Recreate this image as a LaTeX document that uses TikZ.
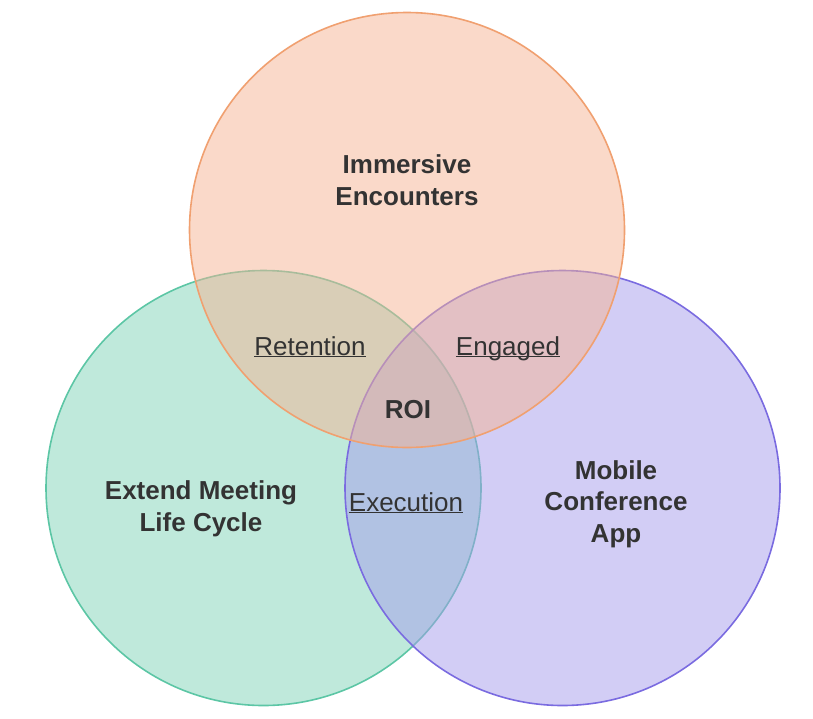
\documentclass[tikz,border=0pt]{standalone}
\usepackage{fontspec}
\setmainfont{Liberation Sans}
\definecolor{orangefill}{HTML}{F5B393}
\definecolor{orangeline}{HTML}{F0A070}
\definecolor{greenfill}{HTML}{7FD4B8}
\definecolor{greenline}{HTML}{5CC6A5}
\definecolor{purplefill}{HTML}{A59CEB}
\definecolor{purpleline}{HTML}{7A6BE0}
\definecolor{labelgray}{HTML}{333333}
\tikzset{
  venn/.style={circle, minimum size=435pt, inner sep=0pt, line width=1.6pt, fill opacity=0.5},
  setlabel/.style={text=labelgray, align=center, font=\fontsize{26}{31.5}\selectfont\bfseries},
  zonelabel/.style={text=labelgray, text height=19pt, text depth=7pt, font=\fontsize{26}{31.5}\selectfont}
}
\begin{document}
\begin{tikzpicture}[x=1pt, y=-1pt]
				\useasboundingbox (0,0) rectangle (813,718);

				\node[venn, draw=greenline, fill=greenfill] (lifecycle) at (263.5,488) {};
				\node[venn, draw=purpleline, fill=purplefill] (mobile) at (562.5,488) {};
				\node[venn, draw=orangeline, fill=orangefill] (immersive) at (407,230) {};

				\node[setlabel] (immersivetext) at (407,180) {Immersive\\Encounters};
				\node[setlabel] (lifecycletext) at (201,509) {Extend Meeting\\Life Cycle};
				\node[setlabel] (mobiletext) at (616,504) {Mobile\\Conference\\App};

				\node[zonelabel] (retention) at (310,349) {\underline{\smash{Retention}}};
				\node[zonelabel] (engaged) at (508,349) {\underline{\smash{Engaged}}};
				\node[zonelabel] (execution) at (406,505) {\underline{\smash{Execution}}};
				\node[setlabel] (roi) at (408,410) {ROI};
			\end{tikzpicture}
\end{document}
